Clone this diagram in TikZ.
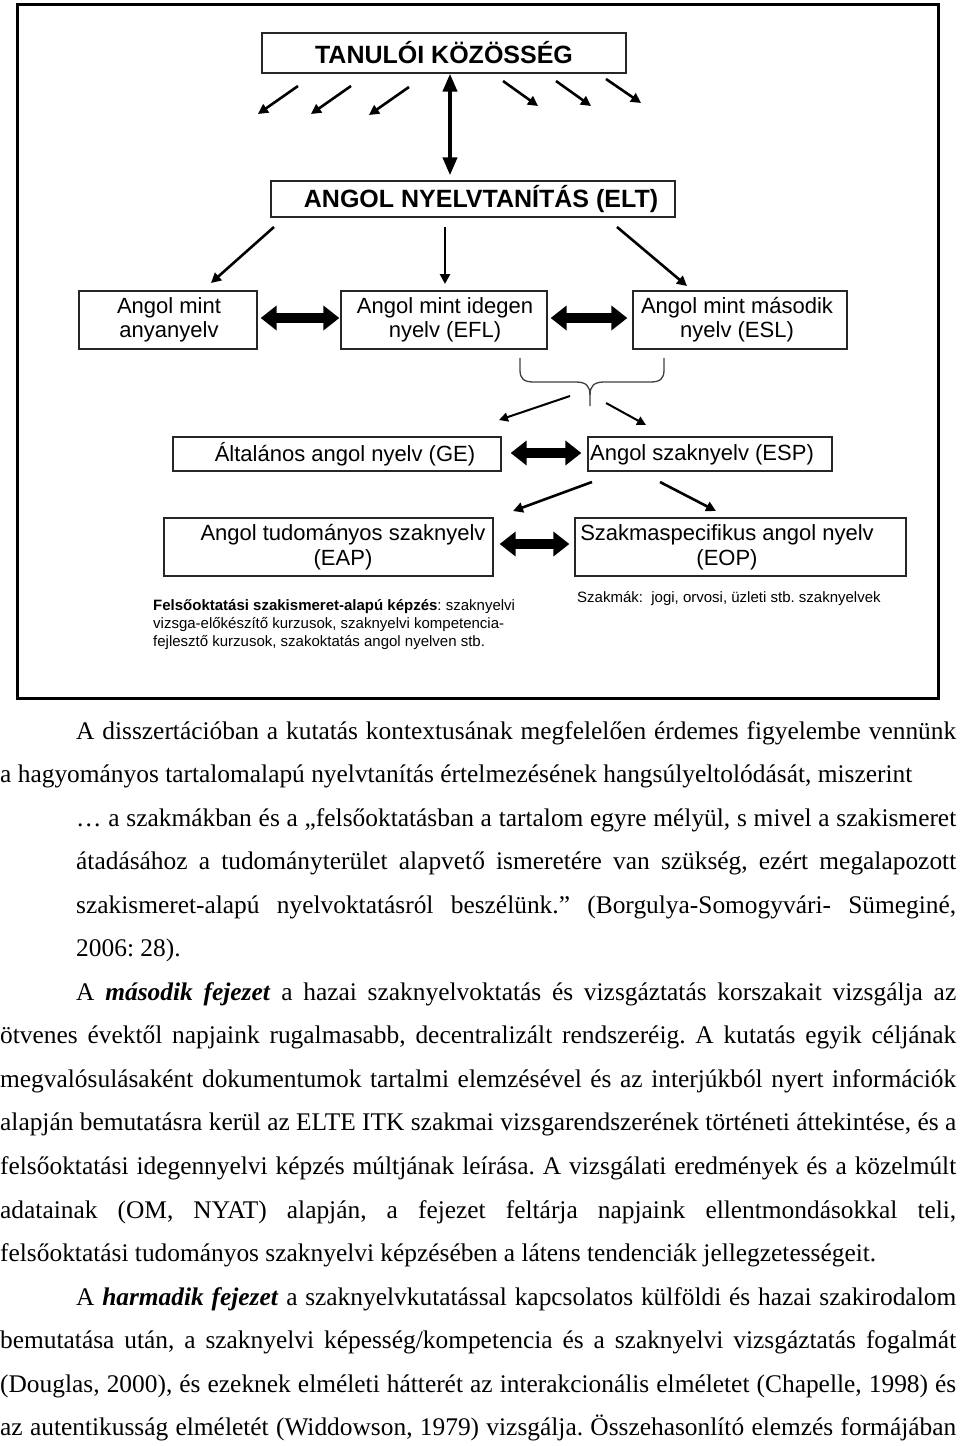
\documentclass[tikz,border=0pt]{standalone}
\usepackage{fontspec}
\usepackage{graphicx}
\setmainfont{Liberation Serif}
\newfontfamily\dsans{Liberation Sans}
\usetikzlibrary{arrows.meta}
\frenchspacing
\newlength\jlnat
\newcommand\jline[2]{\settowidth\jlnat{#2}\ifdim\jlnat>#1\relax\resizebox{#1}{\height}{#2}\else\makebox[#1][s]{#2}\fi}
\begin{document}
\begin{tikzpicture}[x=1pt,y=-1pt,
 box/.style={draw=black!85, line width=1.3pt, inner sep=0pt},
 lbl/.style={font=\dsans\fontsize{22}{24}\selectfont, align=center, inner sep=0pt},
 big/.style={font=\dsans\bfseries\fontsize{25}{28}\selectfont, inner sep=0pt},
 thinarr/.style={line width=2.6pt, -{Triangle[length=10pt,width=10pt]}},
 brarr/.style={line width=2pt, -{Triangle[length=9pt,width=9pt]}},
 fat/.style={line width=10pt, {Triangle[length=16pt,width=24pt]}-{Triangle[length=16pt,width=24pt]}},
 vdbl/.style={line width=4pt, {Triangle[length=18pt,width=14pt]}-{Triangle[length=18pt,width=14pt]}},
 body/.style={font=\fontsize{25.4}{30}\selectfont, inner sep=0pt, anchor=base west},
 note/.style={font=\dsans\fontsize{15}{18}\selectfont, inner sep=0pt, anchor=base west}]
\useasboundingbox (0,0) rectangle (960,1446);
\fill[white] (0,0) rectangle (960,1446);
\draw[line width=3pt] (17,4) rectangle (938,698);

% boxes
\node[box, minimum width=364pt, minimum height=40pt] (tan) at (444,53) {};
\node[big] (tant) at (444,53) {TANULÓI KÖZÖSSÉG};
\node[box, minimum width=404pt, minimum height=36pt] (elt) at (473,199) {};
\node[big] (eltt) at (481,199) {ANGOL NYELVTANÍTÁS (ELT)};

\node[box, minimum width=178pt, minimum height=58pt] (b1) at (168,320) {};
\node[lbl] (b1t) at (169,320) {Angol mint\\anyanyelv};
\node[box, minimum width=206pt, minimum height=58pt] (b2) at (444,320) {};
\node[lbl] (b2t) at (445,320) {Angol mint idegen\\nyelv (EFL)};
\node[box, minimum width=214pt, minimum height=58pt] (b3) at (740,320) {};
\node[lbl] (b3t) at (737,320) {Angol mint második\\nyelv (ESL)};

\node[box, minimum width=328pt, minimum height=34pt] (ge) at (337,454) {};
\node[lbl] (get) at (345,454) {Általános angol nyelv (GE)};
\node[box, minimum width=244pt, minimum height=34pt] (esp) at (710,454) {};
\node[lbl] (espt) at (702,454.5) {Angol szaknyelv (ESP)};

\node[box, minimum width=329pt, minimum height=58pt] (eap) at (328.5,547) {};
\node[lbl, font=\dsans\fontsize{22}{25}\selectfont] (eapt) at (343,547) {Angol tudományos szaknyelv\\(EAP)};
\node[box, minimum width=331pt, minimum height=58pt] (eop) at (740.5,547) {};
\node[lbl, font=\dsans\fontsize{22}{25}\selectfont] (eopt) at (727,547) {Szakmaspecifikus angol nyelv\\(EOP)};

% notes
\node[note] (f1) at (153,610) {\textbf{Felsőoktatási szakismeret-alapú képzés}: szaknyelvi};
\node[note] (f2) at (153,628) {vizsga-előkészítő kurzusok, szaknyelvi kompetencia-};
\node[note] (f3) at (153,646) {fejlesztő kurzusok, szakoktatás angol nyelven stb.};
\node[note] (f4) at (577,602) {Szakmák:\ \ jogi, orvosi, üzleti stb. szaknyelvek};

% vertical double arrow
\draw[vdbl, shorten >=5pt] ([xshift=6pt]tan.south) -- ([xshift=6pt]tan.south |- elt.north);

% fat double arrows
\draw[fat] ([xshift=3pt,yshift=2pt]b1.east) -- ([xshift=-1pt,yshift=2pt]b2.west);
\draw[fat] ([xshift=3pt,yshift=2pt]b2.east) -- ([xshift=-5pt,yshift=2pt]b3.west);
\draw[fat] ([xshift=9pt,yshift=1pt]ge.east) -- ([xshift=-6pt,yshift=1pt]esp.west);
\draw[fat] ([xshift=6pt,yshift=3pt]eap.east) -- ([xshift=-5pt,yshift=3pt]eop.west);

% free thin arrows
\coordinate (pa1) at (298,86);  \coordinate (qa1) at (258,114);
\coordinate (pa2) at (351,86);  \coordinate (qa2) at (311,114);
\coordinate (pa3) at (409,87);  \coordinate (qa3) at (369,115);
\coordinate (pa4) at (503,81);  \coordinate (qa4) at (538,106);
\coordinate (pa5) at (556,81);  \coordinate (qa5) at (591,106);
\coordinate (pa6) at (606,79);  \coordinate (qa6) at (641,103);
\coordinate (pe1) at (274,227); \coordinate (qe1) at (211,283);
\coordinate (pe2) at (445,227); \coordinate (qe2) at (445,284);
\coordinate (pe3) at (617,227); \coordinate (qe3) at (687,286);
\coordinate (ps1) at (592,482); \coordinate (qs1) at (513,511);
\coordinate (ps2) at (660,482); \coordinate (qs2) at (716,511);
\draw[thinarr] (pa1) -- (qa1);
\draw[thinarr] (pa2) -- (qa2);
\draw[thinarr] (pa3) -- (qa3);
\draw[thinarr] (pa4) -- (qa4);
\draw[thinarr] (pa5) -- (qa5);
\draw[thinarr] (pa6) -- (qa6);
\draw[thinarr] (pe1) -- (qe1);
\draw[thinarr] (pe2) -- (qe2);
\draw[thinarr] (pe3) -- (qe3);
\draw[thinarr] (ps1) -- (qs1);
\draw[thinarr] (ps2) -- (qs2);
\coordinate (bra) at (570,396);
\coordinate (brae) at (499,420);
\coordinate (brb) at (606,403);
\coordinate (brbe) at (646,425);
\draw[brarr] (bra) -- (brae);
\draw[brarr] (brb) -- (brbe);

% brace
\draw[line width=1.3pt, black!75] (520,358) -- (520,370) .. controls (520,379) and (524,382) .. (534,382) -- (576,382) .. controls (586,382) and (590,386) .. (590,395) -- (590,406);
\draw[line width=1.3pt, black!75] (664,358) -- (664,370) .. controls (664,379) and (660,382) .. (650,382) -- (604,382) .. controls (594,382) and (590,386) .. (590,395);

% body text
\node[body] (l0) at (76,739) {\jline{880pt}{A disszertációban a kutatás kontextusának megfelelően érdemes figyelembe vennünk}};
\node[body] (l1) at (0,782.6) {a hagyományos tartalomalapú nyelvtanítás értelmezésének hangsúlyeltolódását, miszerint};
\node[body] (l2) at (76,826.1) {\jline{880pt}{… a szakmákban és a „felsőoktatásban a tartalom egyre mélyül, s mivel a szakismeret}};
\node[body] (l3) at (76,869.65) {\jline{880pt}{átadásához a tudományterület alapvető ismeretére van szükség, ezért megalapozott}};
\node[body] (l4) at (76,913.2) {\jline{880pt}{szakismeret-alapú nyelvoktatásról beszélünk.” (Borgulya-Somogyvári- Sümeginé,}};
\node[body] (l5) at (76,956.75) {2006: 28).};
\node[body] (l6) at (76,1000.3) {\jline{880pt}{A \textbf{\textit{második fejezet}} a hazai szaknyelvoktatás és vizsgáztatás korszakait vizsgálja az}};
\node[body] (l7) at (0,1043.85) {\jline{956pt}{ötvenes évektől napjaink rugalmasabb, decentralizált rendszeréig. A kutatás egyik céljának}};
\node[body] (l8) at (0,1087.4) {\jline{956pt}{megvalósulásaként dokumentumok tartalmi elemzésével és az interjúkból nyert információk}};
\node[body] (l9) at (0,1130.95) {\jline{956pt}{alapján bemutatásra kerül az ELTE ITK szakmai vizsgarendszerének történeti áttekintése, és a}};
\node[body] (l10) at (0,1174.5) {\jline{956pt}{felsőoktatási idegennyelvi képzés múltjának leírása. A vizsgálati eredmények és a közelmúlt}};
\node[body] (l11) at (0,1218.05) {\jline{956pt}{adatainak (OM, NYAT) alapján, a fejezet feltárja napjaink ellentmondásokkal teli,}};
\node[body] (l12) at (0,1261.6) {felsőoktatási tudományos szaknyelvi képzésében a látens tendenciák jellegzetességeit.};
\node[body] (l13) at (76,1305.15) {\jline{880pt}{A \textbf{\textit{harmadik fejezet}} a szaknyelvkutatással kapcsolatos külföldi és hazai szakirodalom}};
\node[body] (l14) at (0,1348.7) {\jline{956pt}{bemutatása után, a szaknyelvi képesség/kompetencia és a szaknyelvi vizsgáztatás fogalmát}};
\node[body] (l15) at (0,1392.25) {\jline{956pt}{(Douglas, 2000), és ezeknek elméleti hátterét az interakcionális elméletet (Chapelle, 1998) és}};
\node[body] (l16) at (0,1435.8) {\jline{956pt}{az autentikusság elméletét (Widdowson, 1979) vizsgálja. Összehasonlító elemzés formájában}};
\end{tikzpicture}
\end{document}
